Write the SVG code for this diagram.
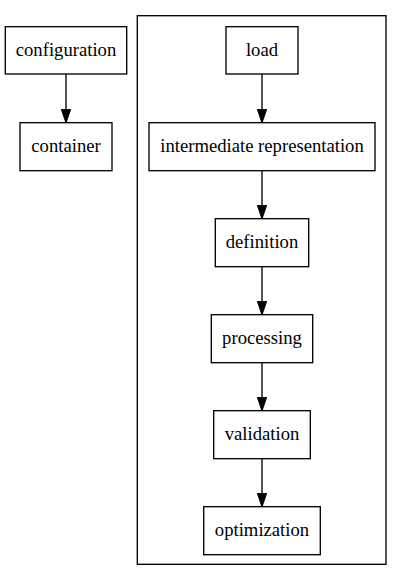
<svg xmlns="http://www.w3.org/2000/svg" width="402" height="581" viewBox="0 0 402 581">
<defs>
<marker id="ah" markerUnits="userSpaceOnUse" markerWidth="16" markerHeight="12" refX="13.3" refY="4.67" orient="auto">
<polygon points="0,0 13.3,4.67 0,9.33" fill="#000" stroke="#000" stroke-width="1"/>
</marker>
</defs>
<style>
rect.n{fill:#fff;stroke:#000;stroke-width:1.33}
rect.c{fill:none;stroke:#000;stroke-width:1.33}
text{font-size:18.67px;text-anchor:middle;fill:#000}
.e line{stroke:#000;stroke-width:1.33;marker-end:url(#ah)}
</style>
<rect width="402" height="581" fill="#fff"/>
<g id="cluster"><rect class="c" x="137.3" y="15.7" width="248.7" height="548.6"/></g>
<g id="edges" class="e">
<line x1="66" y1="74" x2="66" y2="122.7"/>
<line x1="262" y1="74" x2="262" y2="122.7"/>
<line x1="262" y1="170.7" x2="262" y2="218.7"/>
<line x1="262" y1="266.7" x2="262" y2="314.7"/>
<line x1="262" y1="362.7" x2="262" y2="410.7"/>
<line x1="262" y1="458.7" x2="262" y2="506.7"/>
</g>
<g font-family="'Liberation Serif', 'DejaVu Serif', serif">
<g id="configuration"><rect class="n" x="5.3" y="26.7" width="121.4" height="47.3"/><text x="66" y="56">configuration</text></g>
<g id="container"><rect class="n" x="20" y="122.7" width="92" height="48"/><text x="66" y="152.3">container</text></g>
<g id="load"><rect class="n" x="226" y="26.7" width="72" height="47.3"/><text x="262" y="56">load</text></g>
<g id="ir"><rect class="n" x="149" y="122.7" width="226" height="48"/><text x="262" y="152.3">intermediate representation</text></g>
<g id="definition"><rect class="n" x="215.3" y="218.7" width="93.4" height="48"/><text x="262" y="248.3">definition</text></g>
<g id="processing"><rect class="n" x="211.3" y="314.7" width="101.4" height="48"/><text x="262" y="344.3">processing</text></g>
<g id="validation"><rect class="n" x="213.7" y="410.7" width="96.6" height="48"/><text x="262" y="440.3">validation</text></g>
<g id="optimization"><rect class="n" x="203.7" y="506.7" width="116.6" height="48"/><text x="262" y="536.3">optimization</text></g>
</g>
</svg>
